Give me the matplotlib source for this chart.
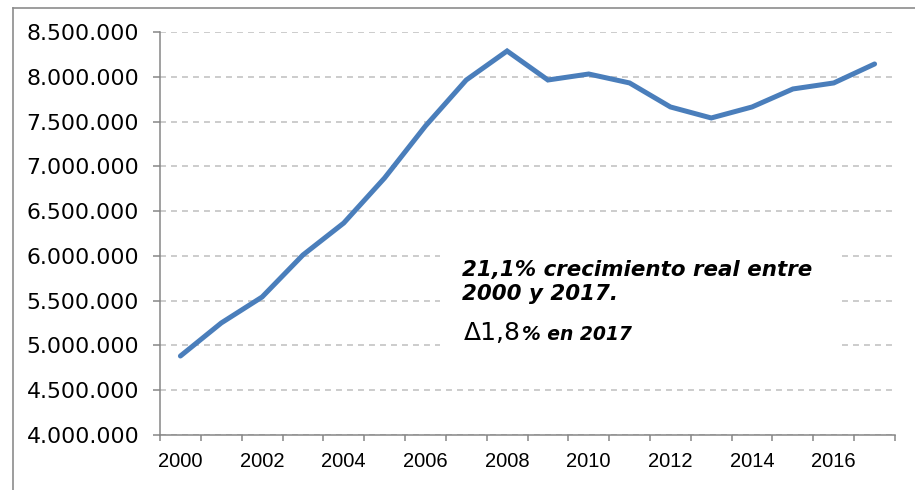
"""Línea de evolución 2000-2017 con anotación de crecimiento real."""
import matplotlib
matplotlib.use("Agg")
import matplotlib.pyplot as plt
from matplotlib.lines import Line2D
from matplotlib.patches import Rectangle
from matplotlib.ticker import FixedLocator
import numpy as np

# ----- data -----
YEARS = list(range(2000, 2018))
VALUES = [4882000, 5251000, 5541000, 6010000, 6367000, 6870000, 7450000,
          7964000, 8288000, 7964000, 8031000, 7931000, 7663000, 7540000,
          7663000, 7864000, 7931000, 8143000]
Y_TICKS = [4000000 + 500000 * i for i in range(10)]
X_LABEL_YEARS = list(range(2000, 2017, 2))

NOTE_LINE1 = "21,1% crecimiento real entre"
NOTE_LINE2 = "2000 y 2017."
NOTE_DELTA = "\u03941,8"
NOTE_REST = "% en 2017"

LINE_COLOR = "#4A7EBB"
AXIS_COLOR = "#868686"
GRID_COLOR = "#BFBFBF"

W, H = 915, 490


def fx(px):
    return px / W


def fy(py):
    return 1 - py / H


def main() -> None:
    fig = plt.figure(figsize=(W / 100, H / 100), dpi=100)
    ax = fig.add_axes([fx(160), fy(435), fx(735), 403 / H])

    x = np.arange(len(YEARS))
    ax.plot(x, VALUES, color=LINE_COLOR, linewidth=3.6,
            solid_joinstyle="miter", solid_capstyle="round", zorder=4)

    ax.set_xlim(-0.5, len(YEARS) - 0.5)
    ax.set_ylim(Y_TICKS[0], Y_TICKS[-1])

    # y axis
    ax.set_yticks(Y_TICKS)
    ax.set_yticklabels([f"{v:,.0f}".replace(",", ".") for v in Y_TICKS],
                       fontsize=15.8, family="DejaVu Sans")
    ax.tick_params(axis="y", direction="out", length=5, width=1.1,
                   color=AXIS_COLOR, pad=10)

    # x axis: labels centred on categories, ticks on the boundaries
    label_pos = [YEARS.index(y) for y in X_LABEL_YEARS]
    ax.set_xticks(label_pos)
    ax.set_xticklabels([str(y) for y in X_LABEL_YEARS], fontsize=14.5,
                       family="Liberation Sans")
    ax.xaxis.set_minor_locator(FixedLocator(np.arange(-0.5, len(YEARS), 1)))
    ax.tick_params(axis="x", which="major", length=0, pad=12)
    ax.tick_params(axis="x", which="minor", direction="out", length=4,
                   width=1.1, color=AXIS_COLOR)

    for side in ("top", "right"):
        ax.spines[side].set_visible(False)
    for side in ("left", "bottom"):
        ax.spines[side].set_color(AXIS_COLOR)
        ax.spines[side].set_linewidth(1.1)

    ax.grid(axis="y", color=GRID_COLOR, linewidth=1.1,
            linestyle=(0, (3.9, 3.3)), zorder=1)
    ax.set_axisbelow(True)

    # white box behind the note (hides the gridlines there)
    ax.add_patch(Rectangle((fx(440), fy(352)), fx(400), 104 / H,
                           transform=fig.transFigure, facecolor="white",
                           edgecolor="none", zorder=2))

    note_kw = dict(fontsize=15.4, family="DejaVu Sans", weight="bold",
                   style="oblique", va="baseline", ha="left", zorder=5)
    fig.text(fx(462), fy(276), NOTE_LINE1, **note_kw)
    fig.text(fx(462), fy(300), NOTE_LINE2, **note_kw)
    fig.text(fx(464), fy(340), NOTE_DELTA, fontsize=18, family="DejaVu Sans",
             va="baseline", ha="left")
    fig.text(fx(522), fy(340), NOTE_REST, fontsize=13.5,
             family="DejaVu Sans", weight="bold", style="oblique",
             va="baseline", ha="left")

    # outer chart border (left and top visible)
    border_kw = dict(color="#8C8C8C", linewidth=1.2, transform=fig.transFigure)
    fig.add_artist(Line2D([fx(13), fx(13)], [0, fy(8)], **border_kw))
    fig.add_artist(Line2D([fx(13), 1], [fy(8), fy(8)], **border_kw))

    fig.savefig("out.png", dpi=100)


if __name__ == "__main__":
    main()
